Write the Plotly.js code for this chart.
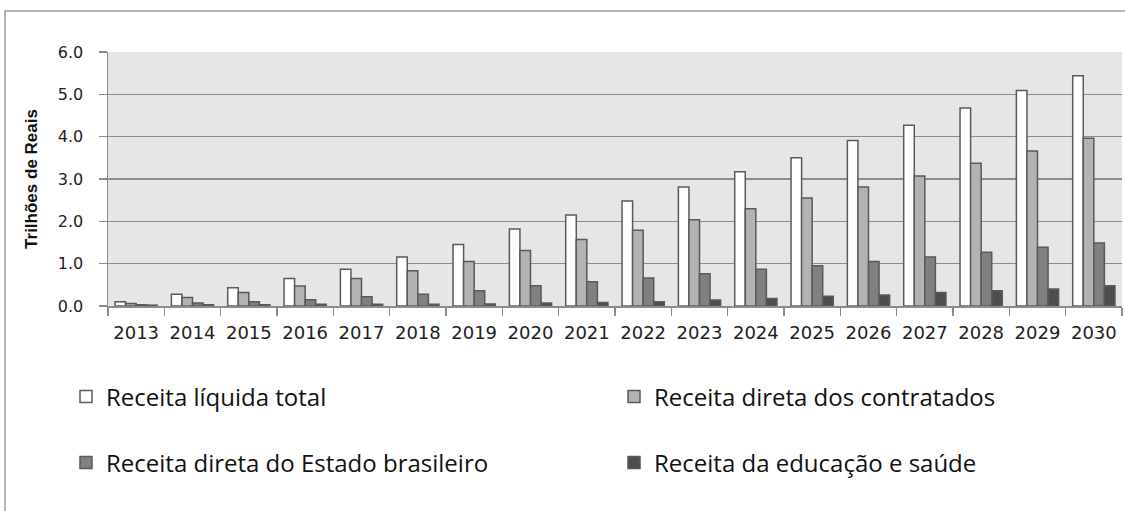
<!DOCTYPE html>
<html>
<head>
<meta charset="utf-8">
<script src="https://cdn.plot.ly/plotly-3.0.1.min.js"></script>
<style>html,body{margin:0;padding:0;background:#fff;}#chart{width:1125px;height:511px;}</style>
</head>
<body>
<div id="chart"></div>
<script>
var years = ['2013','2014','2015','2016','2017','2018','2019','2020','2021','2022','2023','2024','2025','2026','2027','2028','2029','2030'];
var seriesNames = ['Receita líquida total','Receita direta dos contratados','Receita direta do Estado brasileiro','Receita da educação e saúde'];
var receitaLiquidaTotal = [0.10,0.28,0.43,0.65,0.87,1.16,1.45,1.82,2.15,2.48,2.81,3.17,3.50,3.91,4.27,4.68,5.09,5.44];
var receitaContratados = [0.06,0.20,0.32,0.47,0.65,0.83,1.05,1.31,1.57,1.79,2.04,2.30,2.55,2.81,3.07,3.37,3.66,3.96];
var receitaEstado = [0.03,0.07,0.10,0.15,0.22,0.28,0.36,0.48,0.57,0.66,0.76,0.87,0.95,1.05,1.16,1.27,1.39,1.49];
var receitaEducacaoSaude = [0.02,0.03,0.03,0.04,0.04,0.04,0.05,0.07,0.08,0.10,0.14,0.18,0.23,0.26,0.32,0.36,0.40,0.48];
var yTickVals = [0,1,2,3,4,5,6];
var yTickText = ['0.0','1.0','2.0','3.0','4.0','5.0','6.0'];

var allValues = [receitaLiquidaTotal, receitaContratados, receitaEstado, receitaEducacaoSaude];
var fills = ['#ffffff','#b3b3b3','#808080','#4d4d4d'];
var legendIds = ['legend','legend2','legend3','legend4'];

var traces = allValues.map(function(vals, i){
  return {
    type:'bar', x: years, y: vals, name: seriesNames[i],
    marker:{color: fills[i], line:{color:'#5a5a5a', width:1.5}},
    legend: legendIds[i],
    hoverinfo:'skip'
  };
});

var legendFont = {family:'"Open Sans", "Noto Sans", sans-serif', size:24, color:'#111'};
function mkLegend(px, py){
  return {orientation:'h', xref:'container', yref:'container', x:px/1125, xanchor:'left', y:(511-py)/511, yanchor:'middle',
    font:legendFont, bgcolor:'rgba(0,0,0,0)'};
}
var layout = {
  width:1125, height:511,
  margin:{l:108, r:3, t:52, b:205, pad:0},
  paper_bgcolor:'#ffffff',
  plot_bgcolor:'#e6e6e6',
  barmode:'group', bargap:0.25, bargroupgap:0,
  font:{family:'"DejaVu Sans", Verdana, sans-serif', color:'#222'},
  xaxis:{
    type:'category', tickson:'boundaries', ticks:'outside', ticklen:8, tickcolor:'#8c8c8c', tickwidth:1.5,
    showline:true, linecolor:'#8c8c8c', linewidth:1.5, showgrid:false,
    tickfont:{family:'"DejaVu Sans", Verdana, sans-serif', size:18, color:'#222'},
    ticklabelstandoff:10, fixedrange:true
  },
  yaxis:{
    range:[0,6], tickvals:yTickVals, ticktext:yTickText, ticks:'outside', ticklen:8, tickcolor:'#8c8c8c', tickwidth:1.5,
    showline:true, linecolor:'#8c8c8c', linewidth:1.5,
    showgrid:true, gridcolor:'#8c8c8c', gridwidth:1.5, zeroline:false,
    tickfont:{family:'"DejaVu Sans", Verdana, sans-serif', size:16, color:'#222'},
    ticklabelstandoff:12,
    title:{text:'Trilhões de Reais', font:{family:'"Liberation Sans Narrow", "Liberation Sans", sans-serif', size:17, weight:'bold', color:'#111'}, standoff:16},
    fixedrange:true
  },
  legend: mkLegend(66, 397),
  legend2: mkLegend(614, 397),
  legend3: mkLegend(66, 463),
  legend4: mkLegend(614, 463),
  shapes:[{
    type:'rect', xref:'paper', yref:'paper', x0:(5-108)/1014, x1:1.2, y0:-2, y1:(306-11)/254,
    line:{color:'#9a9a9a', width:1.5}, fillcolor:'rgba(0,0,0,0)', layer:'below'
  }],
  showlegend:true
};

Plotly.newPlot('chart', traces, layout, {staticPlot:true, displayModeBar:false});
</script>
</body>
</html>
